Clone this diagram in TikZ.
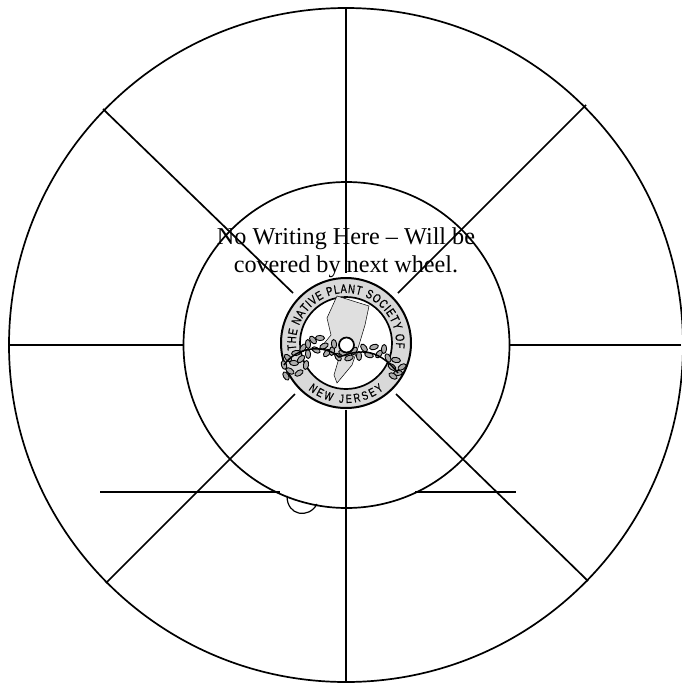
\documentclass[tikz,border=0pt]{standalone}
\usepackage{fontspec}
\usepackage{tikz}
\usetikzlibrary{decorations.text}
\setmainfont{Liberation Serif}
\setsansfont{Liberation Sans}
\newfontfamily\sealfont[FakeStretch=0.76,FakeBold=0.6]{Liberation Sans}
\definecolor{sealGray}{gray}{0.85}

\begin{document}
\begin{tikzpicture}[x=1pt,y=-1pt,
          wheel/.style={draw=black,line width=1.7pt},
          spoke/.style={black,line width=1.7pt},
          leaf/.style={draw=black,fill=gray!65,line width=0.9pt},
          note/.style={align=center,font=\fontsize{24.2}{28}\selectfont,inner sep=0pt,text=black}]
          \useasboundingbox (0,0) rectangle (681,683);
          \fill[white] (0,0) rectangle (681,683);
          % wheels
          \coordinate (c) at (346,345);
          \draw[wheel] (c) circle[radius=337];
          \draw[wheel] (346.5,345) circle[radius=163];
          % spoke ends
          \coordinate (nO) at (346,8);     \coordinate (nI) at (346,273);
          \coordinate (sO) at (346,682);   \coordinate (sI) at (346,410);
          \coordinate (wO) at (9,345);     \coordinate (wI) at (184,345);
          \coordinate (eO) at (681,345);   \coordinate (eI) at (509,345);
          \coordinate (nwO) at (103,109);  \coordinate (nwI) at (293,293);
          \coordinate (neO) at (586,105);  \coordinate (neI) at (398,293);
          \coordinate (swO) at (106,583);  \coordinate (swI) at (295,394);
          \coordinate (seO) at (588,581);  \coordinate (seI) at (396,394);
          \foreach \a in {n,s,w,e,nw,ne,sw,se}
            \draw[spoke] (\a O)--(\a I);
          % cut line
          \coordinate (lA) at (100,492);  \coordinate (lB) at (280,492);
          \coordinate (rA) at (415,492);  \coordinate (rB) at (516,492);
          \coordinate (tA) at (287,496);  \coordinate (tB) at (317,504);
          \draw[spoke] (lA)--(lB) (rA)--(rB);
          \draw[black,line width=1.2pt] (tA) .. controls (287,516) and (309,519) .. (tB);
          % seal
          \begin{scope}[shift={(346,343)},y=1pt]
            \fill[sealGray] (0,0) circle[radius=65];
            \draw[black,line width=2pt] (0,0) circle[radius=65];
            \draw[black,fill=white,line width=1.7pt] (0,0) circle[radius=46];
            \fill[gray!25,draw=black,line width=0.5pt]
              (-9,47)--(23,37)--(19,18)--(13,-2)--(6,-22)--(-9,-40)--(-12,-32)
              --(-7,-15)--(-24,-3)--(-15,8)--(-19,25)--cycle;
            \foreach \p/\q in {-62/-22,-58/-15,-56/-28,-52/-20,-50/-10,-47/-30,-45/-16,
                               -43/-5,-38/-1,-38/-11,-33/3,-30/-7,-26/5,-22/-3,-19/-10,
                               -14/-8,-8/-14,-3/-10,3/-15,8/-8,13/-13,18/-5,23/-12,28/-4,
                               33/-11,38/-6,42/-15,46/-24,50/-17,52/-30,56/-24,47/-33,
                               -60/-33,-12/-1,-40/-22}
              \draw[leaf,rotate around={\p*7:(\p,\q)}] (\p,\q) ellipse[x radius=4.5,y radius=2.6];
            \draw[black,line width=1.5pt]
              (-62,-22) .. controls (-48,-2) and (-20,-2) .. (-7,-14)
              .. controls (10,-8) and (30,-2) .. (52,-30);
            \path[postaction={decorate,decoration={text along path,text align={fit to path},
                  text={|\sealfont\fontsize{12.5}{14}\selectfont|THE NATIVE PLANT SOCIETY OF}}}]
              (188:50) arc[start angle=188,end angle=-6,radius=50];
            \path[postaction={decorate,decoration={text along path,text align={fit to path},
                  text={|\sealfont\fontsize{12}{14}\selectfont|NEW JERSEY}}}]
              (231:60) arc[start angle=231,end angle=309,radius=60];
            \draw[black,fill=white,line width=1.7pt] (0.5,-2) circle[radius=7.5];
          \end{scope}
          % warning
          \node[note] (warn) at (346,253) {No Writing Here -- Will be\\covered by next wheel.};
        \end{tikzpicture}
\end{document}
